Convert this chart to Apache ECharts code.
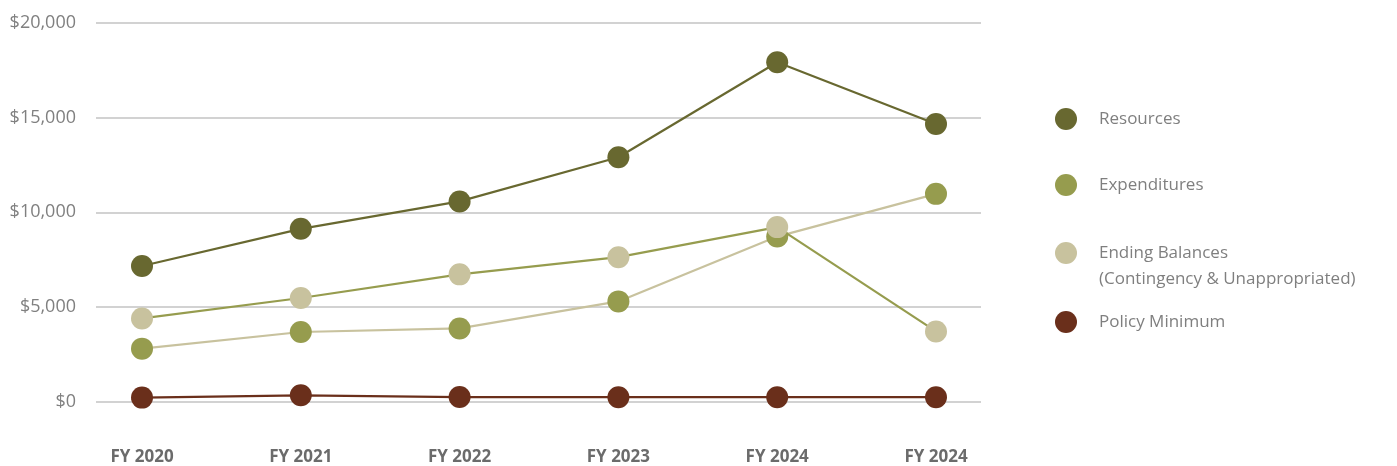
<!DOCTYPE html>
<html>
<head>
<meta charset="utf-8">
<script src="https://cdn.jsdelivr.net/npm/echarts@6/dist/echarts.min.js"></script>
<style>
  html, body { margin: 0; padding: 0; background: #ffffff; }
  #chart { width: 1397px; height: 466px; }
</style>
</head>
<body>
<div id="chart"></div>
<script>
// ---- data ----
const categories = ['FY 2020', 'FY 2021', 'FY 2022', 'FY 2023', 'FY 2024', 'FY 2024'];
const resources = [7140, 9110, 10560, 12900, 17920, 14660];
const expenditures = [2770, 3650, 3840, 5270, 8700, 10960];
const endingBalances = [4370, 5450, 6700, 7610, 9200, 3680];
const policyMinimum = [180, 300, 210, 200, 200, 200];
const yTicks = [0, 5000, 10000, 15000, 20000];

const seriesNames = ['Resources', 'Expenditures', 'Ending Balances', 'Policy Minimum'];
const markerColors = ['#686830', '#969c4e', '#c8c29e', '#6a2f1b'];
// in the original, the Expenditures and Ending Balances line colours are swapped
const lineColors = ['#686830', '#c8c29e', '#969c4e', '#6a2f1b'];
const seriesData = [resources, expenditures, endingBalances, policyMinimum];

const FONT = '"Open Sans", "Noto Sans", sans-serif';
const chart = echarts.init(document.getElementById('chart'), null, { renderer: 'canvas' });

const lineSeries = seriesNames.map((n, i) => ({
  name: n, type: 'line', xAxisIndex: 1, yAxisIndex: 1,
  data: seriesData[i], showSymbol: false, symbol: 'none',
  lineStyle: { color: lineColors[i], width: 2.2 },
  itemStyle: { color: markerColors[i] },
  z: 2, silent: true
}));
const markerSeries = seriesNames.map((n, i) => ({
  name: n, type: 'line', xAxisIndex: 1, yAxisIndex: 1,
  data: seriesData[i], symbol: 'circle', symbolSize: 22, showSymbol: true,
  lineStyle: { width: 0, opacity: 0 },
  itemStyle: { color: markerColors[i], borderWidth: 0 },
  z: 3 + (i === 2 ? 1 : 0), silent: true
}));

const legendTops = [106, 172, 214, 309];
const legends = seriesNames.map((n, i) => ({
  orient: 'vertical', left: 1055, top: legendTops[i], padding: 0,
  icon: 'circle', itemWidth: 22, itemHeight: 22,
  selectedMode: false,
  data: [{ name: n, itemStyle: { color: markerColors[i] } }],
  formatter: i === 2 ? '\nEnding Balances\n(Contingency & Unappropriated)' : '{name}',
  textStyle: {
    color: '#7f7f7f', fontSize: 17, fontFamily: FONT, lineHeight: 26,
    padding: [0, 0, 0, 17]
  }
}));

chart.setOption({
  animation: false,
  backgroundColor: '#ffffff',
  legend: legends,
  grid: [
    { left: 96, right: 416, top: 23, bottom: 64.3 },
    { left: 142, right: 461, top: 23, bottom: 64.3 }
  ],
  xAxis: [
    { gridIndex: 0, type: 'value', min: 0, max: 1, show: false },
    {
      gridIndex: 1, type: 'category', data: categories, boundaryGap: false,
      axisLine: { show: false }, axisTick: { show: false }, splitLine: { show: false },
      axisLabel: { color: '#6b6b6b', fontSize: 17, fontWeight: 'bold', fontFamily: FONT, margin: 48, interval: 0 }
    }
  ],
  yAxis: [
    {
      gridIndex: 0, type: 'value', min: yTicks[0], max: yTicks[yTicks.length - 1], interval: yTicks[1] - yTicks[0],
      axisLine: { show: false }, axisTick: { show: false },
      splitLine: { lineStyle: { color: '#c3c3c3', width: 1.5 } },
      axisLabel: {
        color: '#808080', fontSize: 18, fontFamily: FONT, margin: 20, padding: [0, 0, 5, 0],
        formatter: v => '$' + v.toLocaleString('en-US')
      }
    },
    {
      gridIndex: 1, type: 'value', min: yTicks[0], max: yTicks[yTicks.length - 1], show: false
    }
  ],
  series: lineSeries.concat(markerSeries)
});
</script>
</body>
</html>
